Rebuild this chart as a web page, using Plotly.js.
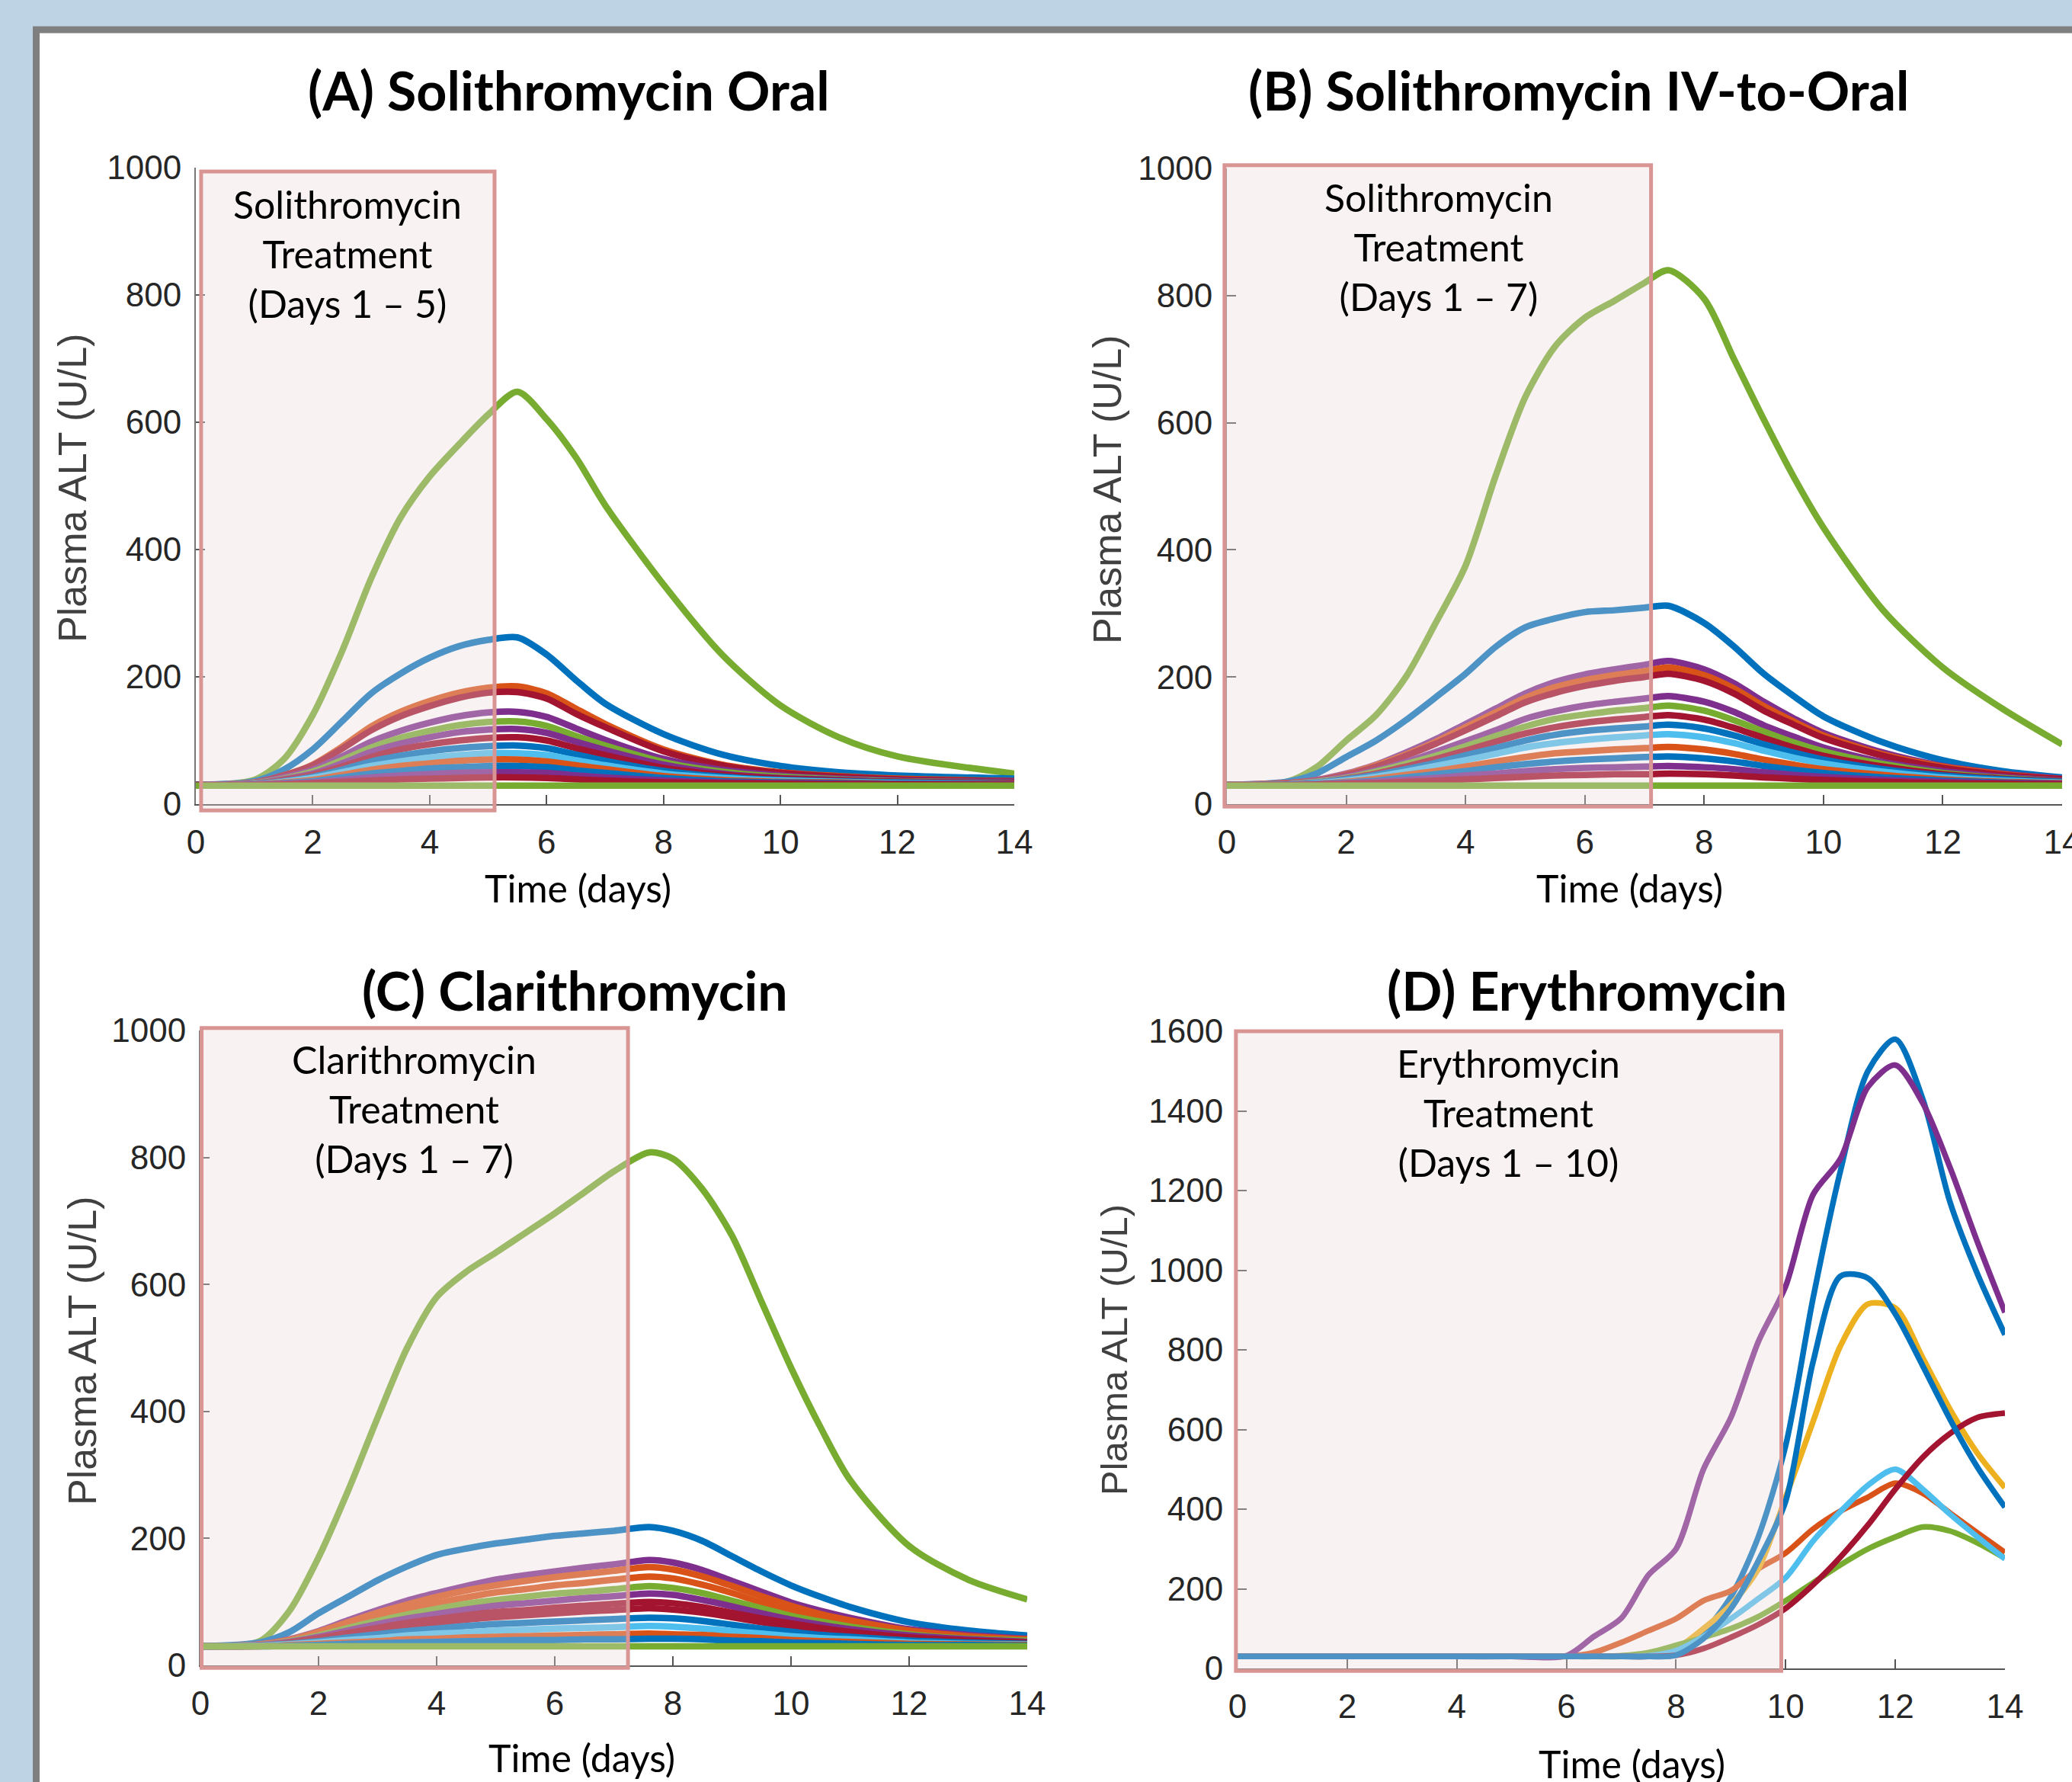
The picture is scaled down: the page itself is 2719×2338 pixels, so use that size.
<!DOCTYPE html>
<html><head><meta charset="utf-8">
<script src="https://cdn.plot.ly/plotly-3.0.1.min.js"></script>
<style>html,body{margin:0;padding:0;background:#BED3E4;overflow:hidden}</style>
</head><body><div id="chart" style="width:2719px;height:2338px"></div>
<script>
// ---------- DATA ----------
// MATLAB default colour order
const BLUE='#0072BD', ORANGE='#D95319', YELLOW='#EDB120', PURPLE='#7E2F8E', GREEN='#77AC30', LBLUE='#4DBEEE', RED='#A2142F';

const xTicks = [0, 2, 4, 6, 8, 10, 12, 14];
const yTicksABC = [0, 200, 400, 600, 800, 1000];
const yTicksD = [0, 200, 400, 600, 800, 1000, 1200, 1400, 1600];

const panelTitles = ['(A) Solithromycin Oral', '(B) Solithromycin IV-to-Oral', '(C) Clarithromycin', '(D) Erythromycin'];
const boxTexts = ['Solithromycin<br>Treatment<br>(Days 1 – 5)', 'Solithromycin<br>Treatment<br>(Days 1 – 7)', 'Clarithromycin<br>Treatment<br>(Days 1 – 7)', 'Erythromycin<br>Treatment<br>(Days 1 – 10)'];
const xTitle = 'Time (days)';
const yTitle = 'Plasma ALT (U/L)';

// Panel A: Solithromycin oral (time in days, ALT in U/L)
const tA = [0,1,1.5,2,2.5,3,3.5,4,4.5,5,5.5,6,6.5,7,8,9,10,11,12,14];
const A_green   = [30,38,70,140,240,355,450,515,565,612,648,605,545,470,345,235,155,105,75,48];
const A_blue    = [30,36,54,86,130,174,205,230,248,258,262,235,195,158,110,78,60,50,45,40];
const A_orange  = [30,34,45,62,90,122,145,162,175,183,185,174,150,126,86,62,50,44,40,36];
const A_red     = [30,34,45,61,87,116,138,154,167,175,176,166,142,121,83,61,49,43,39,36];
const A_purple  = [30,33,42,54,75,98,115,128,138,144,145,137,119,101,71,54,45,40,37,35];
const A_green2  = [30,33,40,51,69,89,104,115,124,129,130,123,107,92,66,51,43,39,36,34];
const A_purple2 = [30,32,39,48,64,82,95,105,113,117,118,112,98,85,62,48,41,38,35,34];
const A_red2    = [30,32,38,46,59,74,86,94,100,104,105,100,88,77,57,46,40,37,35,33];
const A_blue2   = [30,32,36,43,54,67,76,83,88,91,92,88,78,68,52,43,38,36,34,32];
const A_lblue   = [30,31,35,41,50,60,67,73,77,80,80,77,69,61,48,41,37,35,33,32];
const A_orange2 = [30,31,34,38,46,54,60,64,68,70,70,67,61,55,44,38,35,34,32,32];
const A_blue3   = [30,31,33,36,42,48,52,56,58,60,60,58,53,49,41,36,34,33,32,31];
const A_purple3 = [30,31,32,34,38,42,45,47,49,50,50,49,45,42,37,34,33,32,31,31];
const A_red3    = [30,30,31,33,35,37,39,40,41,42,42,41,39,37,34,33,32,31,31,30];
const A_base    = [29,29,29,29,29,29,29,29,29,29,29,29,29,29,29,29,29,29,29,29];

// Panel B: Solithromycin IV-to-oral
const tB = [0,1,1.5,2,2.5,3,3.5,4,4.5,5,5.5,6,6.5,7,7.4,8,8.5,9,9.5,10,11,12,13,14];
const B_green   = [30,35,58,100,140,200,285,375,515,640,720,765,792,820,840,795,700,605,515,435,305,215,150,94];
const B_blue    = [30,35,48,74,100,132,168,205,247,278,292,302,305,309,312,285,248,205,170,138,97,69,52,42];
const B_purple  = [30,33,38,48,62,81,102,126,150,174,192,204,212,219,225,212,190,161,135,112,81,60,48,40];
const B_orange  = [30,33,37,47,61,78,98,121,144,167,184,195,203,209,215,203,182,154,130,108,78,59,47,39];
const B_red     = [30,33,37,46,59,76,95,116,138,160,175,186,194,200,205,194,174,147,125,104,76,57,46,39];
const B_purple2 = [30,32,36,43,53,66,82,99,116,134,146,155,161,166,170,161,145,124,106,89,66,52,43,37];
const B_green2  = [30,32,35,41,51,63,76,91,107,122,134,141,147,151,155,147,132,114,97,83,63,49,41,36];
const B_red2    = [30,32,34,40,48,59,71,84,98,111,121,128,133,137,140,133,120,104,89,76,59,47,40,36];
const B_blue2   = [30,31,34,39,46,55,65,77,88,100,109,115,119,122,125,119,108,94,81,70,55,45,39,35];
const B_lblue   = [30,31,33,37,43,51,60,69,79,89,96,101,105,108,110,105,96,84,73,64,51,42,37,34];
const B_orange2 = [30,31,32,35,40,46,52,59,67,74,80,83,86,88,90,86,79,70,62,55,46,39,35,33];
const B_blue3   = [30,31,32,34,37,42,47,52,58,63,67,70,72,74,75,72,67,60,54,49,42,37,34,32];
const B_purple3 = [30,30,31,33,35,38,41,45,48,52,55,57,58,59,60,58,55,50,46,43,38,35,33,32];
const B_red3    = [30,30,31,32,33,35,37,39,41,43,45,46,47,47,48,47,45,42,40,38,35,33,32,31];
const B_base    = [29,29,29,29,29,29,29,29,29,29,29,29,29,29,29,29,29,29,29,29,29,29,29,29];

// Panel C: Clarithromycin
const tC = [0,1,1.5,2,2.5,3,3.5,4,4.5,5,5.5,6,6.5,7,7.6,8,8.5,9,9.5,10,10.5,11,12,13,14];
const C_green   = [30,38,85,170,275,390,500,580,620,650,681,712,745,778,808,798,750,677,573,469,375,292,188,135,104];
const C_blue    = [30,36,52,82,108,134,156,174,184,192,198,204,208,212,218,212,196,172,148,126,108,92,68,55,47];
const C_purple  = [30,33,41,54,71,87,102,114,125,135,142,148,154,159,166,162,150,133,116,99,86,75,57,48,42];
const C_orange  = [30,33,40,53,68,83,96,108,118,126,133,139,144,149,155,151,140,125,109,94,81,71,55,46,41];
const C_orange2 = [30,32,39,50,63,76,88,98,107,115,120,126,130,135,140,137,127,114,99,86,75,66,52,44,40];
const C_green2  = [30,32,38,47,59,70,80,89,97,103,108,113,116,120,125,122,114,102,90,78,69,61,49,42,39];
const C_purple2 = [30,32,37,45,55,65,74,81,88,94,98,102,106,109,113,111,103,93,82,72,64,57,47,41,37];
const C_red     = [30,31,36,43,51,59,67,73,79,84,87,91,94,97,100,98,92,83,74,66,59,53,44,39,36];
const C_red2    = [30,31,35,41,48,55,62,67,72,76,79,82,85,87,90,88,83,76,68,61,55,50,42,38,35];
const C_blue2   = [30,31,34,38,44,49,54,58,62,65,67,69,71,73,75,74,70,64,58,53,48,45,39,36,34];
const C_lblue   = [30,31,33,36,40,43,47,50,52,55,56,58,59,60,62,61,58,54,50,46,43,41,36,34,33];
const C_orange3 = [30,30,32,34,36,38,41,42,44,45,46,47,48,49,50,49,48,45,43,40,38,37,34,33,32];
const C_blue3   = [30,30,31,32,34,35,36,37,38,39,40,40,41,41,42,42,41,39,38,36,35,34,32,32,31];
const C_base    = [30,30,30,30,30,30,30,30,30,30,30,30,30,30,30,30,30,30,30,30,30,30,30,30,30];

// Panel D: Erythromycin
const tD = [0,1,2,3,4,5,6,6.5,7,7.5,8,8.5,9,9.5,10,10.5,11,11.5,12,12.5,13,13.5,14];
const D_blue    = [30,30,30,30,30,30,30,30,30,30,35,90,180,330,560,930,1250,1500,1580,1430,1170,990,838];
const D_orange  = [30,30,30,30,30,30,30,40,65,95,125,170,195,250,290,350,395,430,465,440,390,340,291];
const D_yellow  = [30,30,30,30,30,30,30,30,30,35,50,100,160,250,430,620,810,915,905,780,650,540,454];
const D_purple  = [30,30,30,30,30,30,32,80,126,235,300,500,630,820,960,1190,1280,1460,1515,1420,1257,1070,894];
const D_green   = [30,30,30,30,30,30,30,30,32,40,58,78,100,130,170,215,260,300,330,355,345,315,277];
const D_lblue   = [30,30,30,30,30,30,30,30,30,32,45,80,125,175,228,320,394,460,500,450,387,330,275];
const D_red     = [30,30,30,30,30,30,30,30,30,30,33,50,78,110,151,210,280,360,450,530,590,630,641];
const D_blue2   = [30,30,30,30,30,30,30,30,30,30,33,75,150,270,420,770,985,980,890,760,625,505,405];

// treatment windows (days) and box heights (U/L)
const boxA = {day0: 0.09, day1: 5.11, lo: -10, hi: 994};
const boxB = {day0: -0.04, day1: 7.11, lo: -4, hi: 1005};
const boxC = {day0: 0.02, day1: 7.24, lo: -4, hi: 1004};
const boxD = {day0: -0.03, day1: 9.92, lo: -6, hi: 1600};

// ---------- FIGURE ----------
const W = 2719, H = 2338;
const px = v => v / W;
const py = v => 1 - v / H;

const panels = [
  {xa: 'x',  ya: 'y',  t: tA, series: [
    [A_green, GREEN], [A_blue, BLUE], [A_orange, ORANGE], [A_red, RED], [A_purple, PURPLE], [A_green2, GREEN],
    [A_purple2, PURPLE], [A_red2, RED], [A_blue2, BLUE], [A_lblue, LBLUE], [A_orange2, ORANGE], [A_blue3, BLUE],
    [A_purple3, PURPLE], [A_red3, RED], [A_base, GREEN]]},
  {xa: 'x2', ya: 'y2', t: tB, series: [
    [B_green, GREEN], [B_blue, BLUE], [B_purple, PURPLE], [B_orange, ORANGE], [B_red, RED], [B_purple2, PURPLE],
    [B_green2, GREEN], [B_red2, RED], [B_blue2, BLUE], [B_lblue, LBLUE], [B_orange2, ORANGE], [B_blue3, BLUE],
    [B_purple3, PURPLE], [B_red3, RED], [B_base, GREEN]]},
  {xa: 'x3', ya: 'y3', t: tC, series: [
    [C_green, GREEN], [C_blue, BLUE], [C_purple, PURPLE], [C_orange, ORANGE], [C_orange2, ORANGE], [C_green2, GREEN],
    [C_purple2, PURPLE], [C_red, RED], [C_red2, RED], [C_blue2, BLUE], [C_lblue, LBLUE], [C_orange3, ORANGE],
    [C_blue3, BLUE], [C_base, GREEN]]},
  {xa: 'x4', ya: 'y4', t: tD, lw: 7.5, series: [
    [D_blue, BLUE], [D_orange, ORANGE], [D_yellow, YELLOW], [D_purple, PURPLE], [D_green, GREEN],
    [D_lblue, LBLUE], [D_red, RED], [D_blue2, BLUE]]}
];

const traces = [];
panels.forEach(p => {
  p.series.forEach(([ys, col]) => {
    traces.push({
      type: 'scatter', mode: 'lines', x: p.t, y: ys, xaxis: p.xa, yaxis: p.ya,
      line: {color: col, width: p.lw || 8.5, shape: 'spline', smoothing: 0.8},
      hoverinfo: 'skip', showlegend: false
    });
  });
});

const tickFont = {family: 'Liberation Sans, Arial, sans-serif', size: 44, color: '#262626'};
function xAxis(domain, anchor) {
  return {domain, anchor, range: [0, 14], tickvals: xTicks, ticks: 'inside', ticklen: 12, tickwidth: 2,
    tickcolor: '#555', showline: true, linecolor: '#555', linewidth: 2, showgrid: false, zeroline: false,
    tickfont: tickFont, ticklabelstandoff: 10, ticklabeloverflow: 'allow', fixedrange: true};
}
function yAxis(domain, anchor, top, vals) {
  return {domain, anchor, range: [0, top], tickvals: vals, ticks: 'inside', ticklen: 12, tickwidth: 2,
    tickcolor: '#555', showline: true, linecolor: '#777', linewidth: 2, showgrid: false, zeroline: false,
    tickfont: tickFont, ticklabelstandoff: 8, ticklabeloverflow: 'allow', fixedrange: true};
}

const layout = {
  width: W, height: H, margin: {l: 0, r: 0, t: 0, b: 0},
  paper_bgcolor: '#BED3E4', plot_bgcolor: 'rgba(0,0,0,0)', showlegend: false,
  xaxis:  xAxis([px(257), px(1331)], 'y'),
  yaxis:  yAxis([py(1055), py(220)], 'x', 1000, yTicksABC),
  xaxis2: xAxis([px(1610), px(2706)], 'y2'),
  yaxis2: yAxis([py(1055), py(221)], 'x2', 1000, yTicksABC),
  xaxis3: xAxis([px(263), px(1348)], 'y3'),
  yaxis3: yAxis([py(2185), py(1352)], 'x3', 1000, yTicksABC),
  xaxis4: xAxis([px(1624), px(2631)], 'y4'),
  yaxis4: yAxis([py(2189), py(1353)], 'x4', 1600, yTicksD),
  shapes: [], annotations: []
};

// white panel with grey frame
layout.shapes.push({type: 'rect', xref: 'paper', yref: 'paper', x0: px(47.5), x1: 1.2, y0: -0.2, y1: py(39),
  fillcolor: '#FFFFFF', line: {color: '#7F7F7F', width: 9}, layer: 'below'});

// treatment boxes (translucent overlay on top of curves)
[[boxA, 'x', 'y', 1000], [boxB, 'x2', 'y2', 1000], [boxC, 'x3', 'y3', 1000], [boxD, 'x4', 'y4', 1600]].forEach(([b, xa, ya, top]) => {
  layout.shapes.push({type: 'rect', xref: xa + ' domain', yref: ya + ' domain',
    x0: b.day0 / 14, x1: b.day1 / 14, y0: b.lo / top, y1: b.hi / top,
    fillcolor: 'rgba(234,215,215,0.33)', line: {color: '#D99594', width: 5}, layer: 'above'});
});

const titleFont = {family: 'Lato, sans-serif', size: 70, color: '#000'};
const boxFont = {family: 'Lato, sans-serif', size: 50, color: '#000'};
const axTitleFont = {family: 'Lato, sans-serif', size: 50, color: '#000'};
const yTitleFont = {family: 'Liberation Sans, Arial, sans-serif', size: 52, color: '#404040'};
const yTitleFontD = {family: 'Liberation Sans, Arial, sans-serif', size: 49, color: '#404040'};

function ann(text, x, y, font, extra) {
  layout.annotations.push(Object.assign({text, x: px(x), y: py(y), xref: 'paper', yref: 'paper',
    xanchor: 'center', yanchor: 'middle', showarrow: false, font}, extra || {}));
}
// panel titles
ann('<b>' + panelTitles[0] + '</b>', 746, 118, titleFont);
ann('<b>' + panelTitles[1] + '</b>', 2071, 118, titleFont);
ann('<b>' + panelTitles[2] + '</b>', 754, 1299, titleFont);
ann('<b>' + panelTitles[3] + '</b>', 2082, 1299, titleFont);
// box captions
ann(boxTexts[0], 456, 333, boxFont);
ann(boxTexts[1], 1888, 324, boxFont);
ann(boxTexts[2], 543, 1455, boxFont);
ann(boxTexts[3], 1979, 1460, boxFont);
// x titles
ann(xTitle, 758, 1165, axTitleFont);
ann(xTitle, 2138, 1165, axTitleFont);
ann(xTitle, 763, 2306, axTitleFont);
ann(xTitle, 2141, 2314, axTitleFont);
// y titles
ann(yTitle, 95, 640, yTitleFont, {textangle: -90});
ann(yTitle, 1453, 642, yTitleFont, {textangle: -90});
ann(yTitle, 108, 1772, yTitleFont, {textangle: -90});
ann(yTitle, 1462, 1771, yTitleFontD, {textangle: -90});

Plotly.newPlot('chart', traces, layout, {staticPlot: true, displayModeBar: false});
</script></body></html>
